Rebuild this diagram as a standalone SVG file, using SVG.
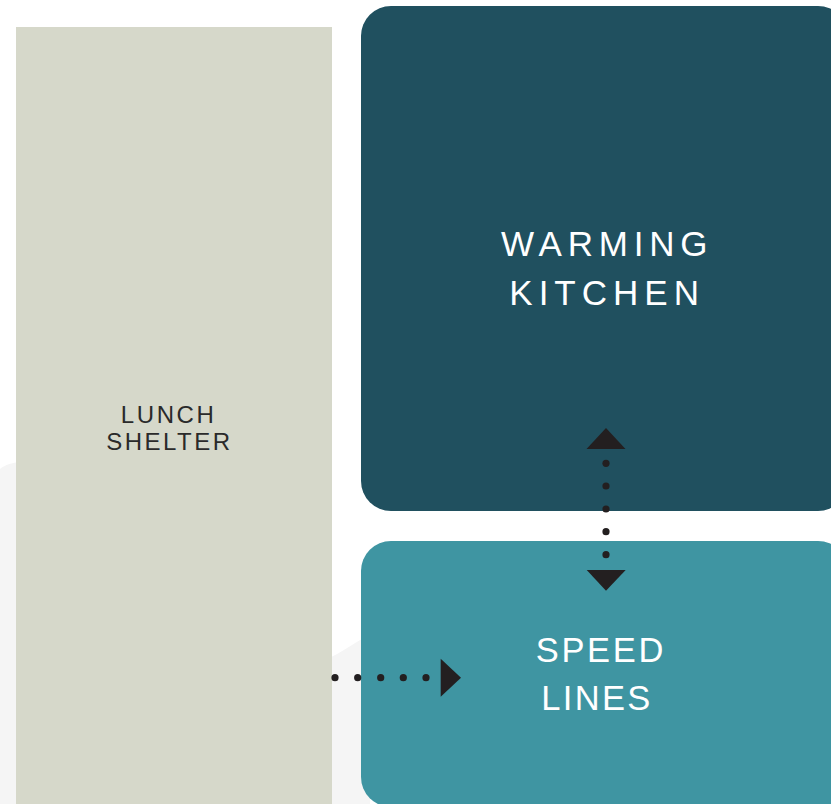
<svg xmlns="http://www.w3.org/2000/svg" width="831" height="804" viewBox="0 0 831 804">
<defs>
<style>
.lbl{font-family:"Liberation Sans",Arial,sans-serif;}
.w{fill:#ffffff;}
.d{fill:#2a2a2a;}
.dot{fill:#231f20;}
</style>
</defs>
<rect x="0" y="0" width="831" height="804" fill="#ffffff"/>
<path d="M0,469 C5,465 12,462 24,462 L320,662 C336,656 350,646 370,634 L370,804 L0,804 Z" fill="#f5f5f5"/>
<g id="lunch-shelter">
<rect x="16" y="27" width="316" height="790" fill="#d6d8ca"/>
<text class="lbl d" font-size="24" letter-spacing="2.6" x="120.8" y="423.3">LUNCH</text>
<text class="lbl d" font-size="24" letter-spacing="2.5" x="106.2" y="450">SHELTER</text>
</g>
<g id="warming-kitchen">
<rect x="361" y="6" width="487" height="505" rx="30" ry="30" fill="#20505f"/>
<text class="lbl w" font-size="35" letter-spacing="5.8" x="501" y="256">WARMING</text>
<text class="lbl w" font-size="35" letter-spacing="6" x="509.3" y="305">KITCHEN</text>
</g>
<g id="speed-lines">
<rect x="361" y="541" width="487" height="266" rx="30" ry="30" fill="#3f95a2"/>
<text class="lbl w" font-size="34.5" letter-spacing="2.7" x="535.7" y="661.7">SPEED</text>
<text class="lbl w" font-size="34.5" letter-spacing="2.3" x="541.3" y="710">LINES</text>
</g>
<g id="connectors">
<polygon class="dot" points="606,428 625.5,449 586.5,449"/>
<circle class="dot" cx="606" cy="463.3" r="3.6"/>
<circle class="dot" cx="606" cy="486" r="3.6"/>
<circle class="dot" cx="606" cy="509" r="3.6"/>
<circle class="dot" cx="606" cy="531.7" r="3.6"/>
<circle class="dot" cx="606" cy="554.7" r="3.6"/>
<polygon class="dot" points="586.7,570 625.7,570 606,590.7"/>
<circle class="dot" cx="335" cy="677.7" r="3.6"/>
<circle class="dot" cx="357.7" cy="677.7" r="3.6"/>
<circle class="dot" cx="380.7" cy="677.7" r="3.6"/>
<circle class="dot" cx="403.3" cy="677.7" r="3.6"/>
<circle class="dot" cx="426" cy="677.7" r="3.6"/>
<polygon class="dot" points="440.7,658.7 461,677.7 440.7,696.7"/>
</g>
</svg>
